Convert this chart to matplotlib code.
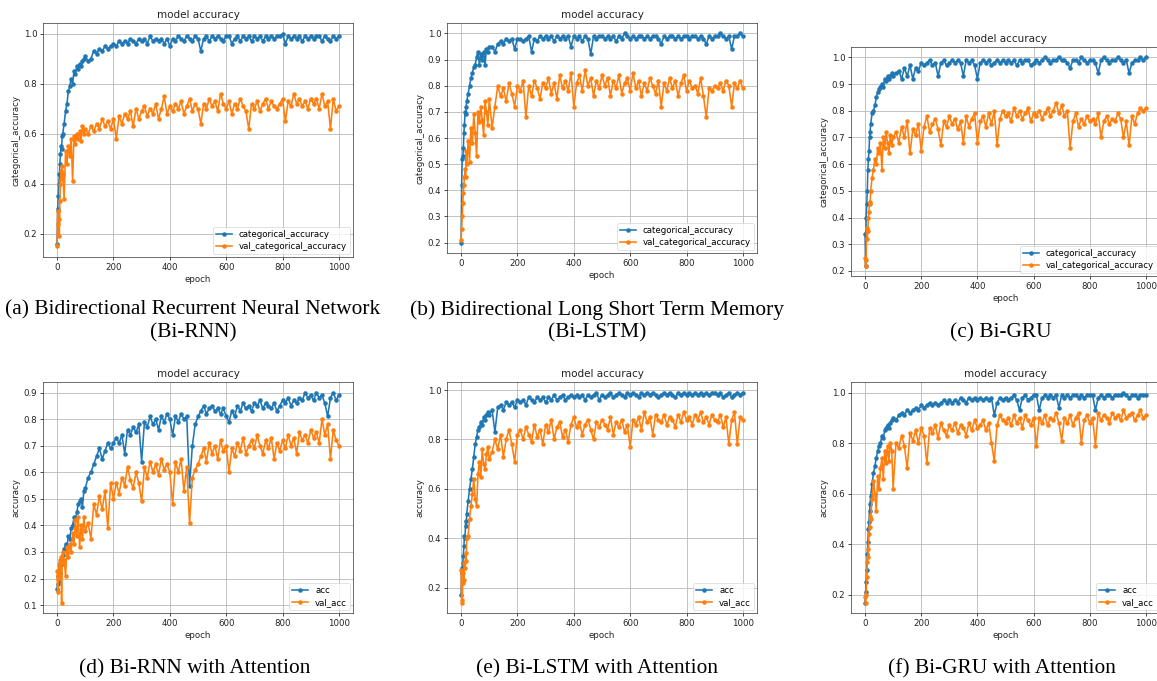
import numpy as np
import matplotlib
matplotlib.use('Agg')
import matplotlib.pyplot as plt

# training history, read every 2 / 5 / 10 epochs
EPOCHS = np.concatenate([np.arange(0, 21, 2), np.arange(25, 101, 5), np.arange(110, 1001, 10)])

# (a) Bi-RNN
A_ACC = [0.16, 0.30, 0.35, 0.40, 0.44, 0.48, 0.52, 0.55, 0.54, 0.59, 0.60,
         0.64, 0.69, 0.72, 0.77, 0.79, 0.82, 0.80, 0.85, 0.84, 0.87, 0.86, 0.88, 0.87, 0.89, 0.90, 0.91,
         0.89, 0.90, 0.93, 0.92, 0.94, 0.93, 0.95, 0.94, 0.95, 0.96,
         0.95, 0.97, 0.96, 0.97, 0.96, 0.98, 0.97, 0.96, 0.98, 0.97,
         0.98, 0.96, 0.99, 0.97, 0.98, 0.97, 0.98, 0.96, 0.98, 0.95,
         0.98, 0.97, 0.99, 0.98, 0.97, 0.99, 0.98, 0.97, 0.99, 0.98,
         0.93, 0.98, 0.99, 0.97, 0.99, 0.98, 0.99, 0.98, 0.97, 0.99,
         0.99, 0.96, 0.98, 0.99, 0.97, 0.99, 0.98, 0.99, 0.97, 0.99,
         0.98, 0.99, 0.97, 0.99, 0.98, 0.99, 0.98, 0.99, 0.99, 1.00,
         0.96, 0.99, 0.98, 0.99, 0.98, 0.99, 0.97, 0.99, 0.98, 0.99,
         0.98, 0.99, 0.99, 0.97, 0.99, 0.98, 0.97, 0.99, 0.98, 0.99]
A_VAL = [0.15, 0.29, 0.24, 0.26, 0.19, 0.33, 0.40, 0.45, 0.42, 0.47, 0.44,
         0.34, 0.53, 0.48, 0.55, 0.51, 0.58, 0.41, 0.59, 0.56, 0.60, 0.58, 0.61, 0.57, 0.63, 0.60, 0.62,
         0.60, 0.63, 0.61, 0.64, 0.62, 0.66, 0.63, 0.65, 0.62, 0.66,
         0.58, 0.67, 0.64, 0.68, 0.66, 0.69, 0.63, 0.70, 0.66, 0.69,
         0.71, 0.67, 0.70, 0.68, 0.72, 0.66, 0.70, 0.75, 0.68, 0.71,
         0.69, 0.72, 0.70, 0.73, 0.68, 0.71, 0.74, 0.69, 0.72, 0.70,
         0.64, 0.72, 0.70, 0.74, 0.71, 0.73, 0.69, 0.76, 0.72, 0.70,
         0.73, 0.68, 0.72, 0.70, 0.74, 0.71, 0.69, 0.62, 0.72, 0.70,
         0.73, 0.69, 0.72, 0.74, 0.70, 0.73, 0.71, 0.70, 0.72, 0.74,
         0.65, 0.73, 0.71, 0.76, 0.72, 0.74, 0.71, 0.73, 0.70, 0.74,
         0.72, 0.74, 0.70, 0.76, 0.71, 0.73, 0.62, 0.74, 0.69, 0.71]

# (b) Bi-LSTM
B_ACC = [0.20, 0.42, 0.52, 0.53, 0.56, 0.62, 0.65, 0.70, 0.69, 0.72, 0.74,
         0.77, 0.80, 0.83, 0.85, 0.87, 0.88, 0.91, 0.93, 0.88, 0.92, 0.90, 0.93, 0.88, 0.94, 0.93, 0.95,
         0.95, 0.93, 0.96, 0.97, 0.96, 0.98, 0.97, 0.98, 0.94, 0.98,
         0.98, 0.97, 0.98, 0.99, 0.93, 0.98, 0.97, 0.99, 0.98, 0.99,
         0.98, 0.99, 0.97, 0.99, 0.98, 0.99, 0.98, 0.99, 0.95, 0.99,
         0.98, 0.99, 0.97, 0.99, 0.98, 0.92, 0.99, 0.98, 0.99, 0.99,
         0.98, 0.99, 0.98, 0.99, 0.97, 0.99, 0.98, 1.00, 0.99, 0.98,
         0.99, 0.98, 0.99, 0.99, 0.98, 0.99, 0.98, 0.99, 0.99, 0.98,
         0.96, 0.99, 0.98, 0.99, 0.99, 0.98, 0.99, 0.98, 0.99, 0.99,
         0.98, 0.99, 0.99, 0.98, 0.99, 0.98, 0.96, 0.99, 0.98, 0.99,
         0.99, 1.00, 0.99, 0.98, 0.99, 0.94, 0.99, 0.99, 1.00, 0.99]
B_VAL = [0.21, 0.25, 0.30, 0.35, 0.39, 0.42, 0.45, 0.48, 0.45, 0.55, 0.50,
         0.59, 0.51, 0.64, 0.58, 0.69, 0.62, 0.53, 0.70, 0.66, 0.72, 0.67, 0.61, 0.74, 0.70, 0.65, 0.75,
         0.64, 0.72, 0.80, 0.76, 0.79, 0.74, 0.81, 0.77, 0.72, 0.80,
         0.78, 0.82, 0.68, 0.80, 0.76, 0.82, 0.79, 0.75, 0.81, 0.79,
         0.83, 0.77, 0.81, 0.75, 0.84, 0.79, 0.82, 0.78, 0.85, 0.72,
         0.81, 0.84, 0.78, 0.86, 0.80, 0.83, 0.76, 0.82, 0.79, 0.84,
         0.80, 0.83, 0.76, 0.82, 0.79, 0.84, 0.77, 0.81, 0.83, 0.78,
         0.85, 0.79, 0.82, 0.76, 0.81, 0.78, 0.83, 0.80, 0.77, 0.82,
         0.72, 0.81, 0.78, 0.83, 0.79, 0.82, 0.76, 0.81, 0.84, 0.78,
         0.82, 0.79, 0.80, 0.77, 0.83, 0.76, 0.68, 0.79, 0.78, 0.80,
         0.79, 0.81, 0.78, 0.82, 0.80, 0.72, 0.81, 0.79, 0.82, 0.79]

# (c) Bi-GRU
C_ACC = [0.34, 0.22, 0.40, 0.45, 0.50, 0.58, 0.62, 0.65, 0.70, 0.72, 0.75,
         0.79, 0.80, 0.82, 0.85, 0.87, 0.88, 0.89, 0.90, 0.89, 0.92, 0.91, 0.93, 0.92, 0.93, 0.94, 0.93,
         0.94, 0.95, 0.92, 0.96, 0.93, 0.97, 0.92, 0.96, 0.95, 0.98,
         0.97, 0.98, 0.99, 0.97, 0.98, 0.93, 0.98, 0.99, 0.97, 0.98,
         0.99, 0.98, 0.99, 0.98, 0.93, 0.99, 0.98, 0.99, 0.97, 0.92,
         0.98, 0.99, 0.98, 0.99, 0.97, 0.98, 0.99, 0.98, 0.99, 0.98,
         0.99, 0.98, 0.99, 0.97, 0.99, 0.98, 0.99, 0.99, 0.97, 0.98,
         0.99, 0.98, 0.99, 1.00, 0.99, 0.98, 0.99, 0.99, 1.00, 0.99,
         0.99, 0.98, 0.96, 0.99, 0.99, 0.98, 1.00, 0.99, 0.98, 0.99,
         0.99, 0.98, 0.94, 0.99, 1.00, 0.99, 0.98, 0.99, 0.99, 1.00,
         0.99, 0.98, 0.99, 0.94, 0.98, 0.99, 0.99, 1.00, 0.99, 1.00]
C_VAL = [0.25, 0.22, 0.24, 0.36, 0.32, 0.35, 0.40, 0.42, 0.46, 0.45, 0.50,
         0.55, 0.58, 0.62, 0.60, 0.66, 0.64, 0.68, 0.58, 0.70, 0.66, 0.72, 0.68, 0.64, 0.71, 0.67, 0.70,
         0.72, 0.68, 0.74, 0.70, 0.76, 0.64, 0.73, 0.71, 0.75, 0.65,
         0.74, 0.78, 0.72, 0.75, 0.77, 0.73, 0.67, 0.76, 0.74, 0.78,
         0.75, 0.77, 0.73, 0.76, 0.68, 0.78, 0.74, 0.77, 0.79, 0.68,
         0.76, 0.78, 0.74, 0.79, 0.75, 0.80, 0.67, 0.77, 0.80, 0.78,
         0.79, 0.76, 0.81, 0.78, 0.80, 0.77, 0.79, 0.81, 0.76, 0.79,
         0.78, 0.80, 0.77, 0.79, 0.81, 0.78, 0.80, 0.83, 0.79, 0.82,
         0.78, 0.80, 0.66, 0.76, 0.79, 0.74, 0.77, 0.75, 0.78, 0.76,
         0.77, 0.75, 0.79, 0.70, 0.76, 0.78, 0.75, 0.77, 0.76, 0.79,
         0.77, 0.70, 0.76, 0.67, 0.78, 0.75, 0.79, 0.81, 0.80, 0.81]

# (d) Bi-RNN with attention
D_ACC = [0.16, 0.18, 0.21, 0.19, 0.23, 0.22, 0.26, 0.25, 0.27, 0.26, 0.29,
         0.31, 0.33, 0.32, 0.36, 0.35, 0.39, 0.40, 0.43, 0.42, 0.45, 0.48, 0.49, 0.50, 0.47, 0.53, 0.54,
         0.58, 0.60, 0.63, 0.66, 0.69, 0.65, 0.68, 0.71, 0.69, 0.71,
         0.73, 0.71, 0.74, 0.67, 0.76, 0.74, 0.77, 0.75, 0.78, 0.64,
         0.79, 0.77, 0.81, 0.78, 0.80, 0.76, 0.81, 0.79, 0.82, 0.80,
         0.74, 0.81, 0.79, 0.82, 0.80, 0.81, 0.55, 0.70, 0.78, 0.81,
         0.83, 0.85, 0.82, 0.84, 0.85, 0.83, 0.84, 0.82, 0.84, 0.81,
         0.79, 0.83, 0.81, 0.85, 0.83, 0.86, 0.84, 0.85, 0.83, 0.86,
         0.85, 0.87, 0.84, 0.86, 0.85, 0.84, 0.86, 0.83, 0.85, 0.87,
         0.86, 0.88, 0.85, 0.87, 0.86, 0.88, 0.87, 0.90, 0.88, 0.89,
         0.87, 0.90, 0.88, 0.89, 0.86, 0.81, 0.88, 0.90, 0.87, 0.89]
D_VAL = [0.23, 0.15, 0.20, 0.25, 0.21, 0.27, 0.22, 0.28, 0.11, 0.26, 0.30,
         0.27, 0.21, 0.32, 0.28, 0.33, 0.30, 0.37, 0.33, 0.42, 0.36, 0.43, 0.32, 0.40, 0.35, 0.43, 0.38,
         0.41, 0.35, 0.48, 0.44, 0.51, 0.46, 0.53, 0.39, 0.56, 0.50,
         0.56, 0.52, 0.58, 0.55, 0.62, 0.57, 0.54, 0.60, 0.56, 0.49,
         0.62, 0.58, 0.64, 0.60, 0.63, 0.59, 0.65, 0.61, 0.63, 0.60,
         0.48, 0.64, 0.60, 0.65, 0.53, 0.62, 0.41, 0.58, 0.61, 0.63,
         0.66, 0.69, 0.64, 0.71, 0.67, 0.70, 0.65, 0.72, 0.68, 0.70,
         0.60, 0.69, 0.66, 0.71, 0.68, 0.73, 0.67, 0.70, 0.72, 0.69,
         0.74, 0.70, 0.67, 0.72, 0.69, 0.73, 0.65, 0.71, 0.68, 0.72,
         0.69, 0.74, 0.70, 0.73, 0.67, 0.75, 0.72, 0.74, 0.71, 0.76,
         0.73, 0.75, 0.71, 0.80, 0.74, 0.78, 0.65, 0.76, 0.72, 0.70]

# (e) Bi-LSTM with attention
E_ACC = [0.17, 0.28, 0.26, 0.30, 0.33, 0.37, 0.41, 0.40, 0.47, 0.45, 0.50,
         0.55, 0.60, 0.64, 0.68, 0.73, 0.78, 0.81, 0.84, 0.85, 0.87, 0.86, 0.89, 0.88, 0.90, 0.91, 0.90,
         0.92, 0.83, 0.93, 0.94, 0.92, 0.95, 0.94, 0.95, 0.93, 0.96,
         0.95, 0.96, 0.94, 0.97, 0.96, 0.95, 0.97, 0.96, 0.97, 0.95,
         0.97, 0.96, 0.98, 0.96, 0.97, 0.98, 0.96, 0.97, 0.98, 0.97,
         0.98, 0.97, 0.98, 0.96, 0.98, 0.97, 0.98, 0.99, 0.96, 0.98,
         0.97, 0.98, 0.99, 0.97, 0.98, 0.99, 0.98, 0.97, 0.99, 0.98,
         0.99, 0.98, 0.97, 0.99, 0.98, 0.99, 0.98, 0.99, 0.98, 0.97,
         0.98, 0.99, 0.98, 0.99, 0.98, 0.97, 0.99, 0.98, 0.99, 0.98,
         0.99, 0.98, 0.99, 0.98, 0.99, 0.98, 0.99, 0.98, 0.99, 0.99,
         0.98, 0.99, 0.97, 0.98, 0.99, 0.97, 0.98, 0.99, 0.98, 0.99]
E_VAL = [0.27, 0.15, 0.14, 0.22, 0.26, 0.23, 0.30, 0.28, 0.34, 0.31, 0.40,
         0.41, 0.48, 0.53, 0.58, 0.64, 0.56, 0.53, 0.66, 0.71, 0.65, 0.76, 0.70, 0.68, 0.74, 0.77, 0.72,
         0.75, 0.80, 0.76, 0.82, 0.73, 0.80, 0.84, 0.78, 0.71, 0.82,
         0.84, 0.80, 0.85, 0.82, 0.79, 0.86, 0.81, 0.84, 0.78, 0.86,
         0.83, 0.88, 0.80, 0.85, 0.87, 0.81, 0.84, 0.79, 0.86, 0.89,
         0.85, 0.87, 0.82, 0.86, 0.88, 0.84, 0.80, 0.87, 0.85, 0.88,
         0.86, 0.84, 0.89, 0.82, 0.87, 0.85, 0.88, 0.83, 0.86, 0.77,
         0.88, 0.86, 0.89, 0.84, 0.91, 0.87, 0.89, 0.82, 0.90, 0.88,
         0.87, 0.90, 0.86, 0.89, 0.88, 0.85, 0.90, 0.87, 0.91, 0.88,
         0.89, 0.86, 0.90, 0.88, 0.91, 0.87, 0.89, 0.86, 0.90, 0.88,
         0.87, 0.90, 0.85, 0.89, 0.78, 0.88, 0.91, 0.78, 0.89, 0.88]

# (f) Bi-GRU with attention
F_ACC = [0.17, 0.21, 0.25, 0.30, 0.36, 0.41, 0.46, 0.49, 0.53, 0.56, 0.59,
         0.64, 0.68, 0.71, 0.74, 0.77, 0.79, 0.80, 0.83, 0.82, 0.85, 0.86, 0.87, 0.86, 0.88, 0.89, 0.90,
         0.89, 0.91, 0.92, 0.91, 0.93, 0.92, 0.93, 0.94, 0.93, 0.95,
         0.94, 0.95, 0.96, 0.95, 0.96, 0.95, 0.96, 0.97, 0.96, 0.97,
         0.96, 0.97, 0.96, 0.98, 0.97, 0.96, 0.98, 0.97, 0.98, 0.97,
         0.98, 0.97, 0.98, 0.97, 0.98, 0.91, 0.96, 0.98, 0.97, 0.98,
         0.97, 0.98, 0.99, 0.97, 0.93, 0.98, 0.99, 0.97, 0.98, 0.99,
         0.99, 0.93, 0.98, 0.99, 0.98, 0.99, 0.98, 0.99, 0.94, 0.99,
         0.98, 0.99, 0.98, 0.99, 0.99, 0.98, 0.99, 0.98, 0.99, 0.99,
         0.99, 0.93, 0.98, 0.99, 0.98, 0.99, 0.99, 0.98, 0.99, 0.99,
         0.99, 1.00, 0.99, 0.98, 0.99, 0.99, 0.98, 0.99, 0.99, 0.99]
F_VAL = [0.19, 0.17, 0.20, 0.27, 0.33, 0.35, 0.38, 0.44, 0.47, 0.51, 0.50,
         0.58, 0.65, 0.60, 0.53, 0.67, 0.62, 0.70, 0.74, 0.66, 0.77, 0.72, 0.79, 0.73, 0.80, 0.77, 0.62,
         0.80, 0.78, 0.83, 0.79, 0.70, 0.84, 0.81, 0.85, 0.80, 0.86,
         0.83, 0.72, 0.86, 0.84, 0.87, 0.82, 0.88, 0.85, 0.83, 0.87,
         0.85, 0.88, 0.84, 0.87, 0.86, 0.83, 0.88, 0.85, 0.89, 0.86,
         0.87, 0.89, 0.85, 0.88, 0.80, 0.73, 0.87, 0.91, 0.89, 0.88,
         0.90, 0.87, 0.91, 0.88, 0.90, 0.86, 0.91, 0.89, 0.87, 0.90,
         0.79, 0.90, 0.88, 0.91, 0.87, 0.90, 0.89, 0.92, 0.88, 0.81,
         0.90, 0.88, 0.91, 0.87, 0.90, 0.92, 0.80, 0.89, 0.91, 0.88,
         0.90, 0.79, 0.92, 0.89, 0.91, 0.90, 0.88, 0.92, 0.90, 0.91,
         0.89, 0.93, 0.90, 0.91, 0.92, 0.89, 0.91, 0.93, 0.90, 0.91]

CAPTIONS = [['(a) Bidirectional Recurrent Neural Network', '(Bi-RNN)'],
            ['(b) Bidirectional Long Short Term Memory', '(Bi-LSTM)'],
            ['(c) Bi-GRU'],
            ['(d) Bi-RNN with Attention'],
            ['(e) Bi-LSTM with Attention'],
            ['(f) Bi-GRU with Attention']]
YLABELS = ['categorical_accuracy'] * 3 + ['accuracy'] * 3
LEGENDS = [('categorical_accuracy', 'val_categorical_accuracy')] * 3 + [('acc', 'val_acc')] * 3
SERIES = [(A_ACC, A_VAL), (B_ACC, B_VAL), (C_ACC, C_VAL),
          (D_ACC, D_VAL), (E_ACC, E_VAL), (F_ACC, F_VAL)]

W, H = 1157, 681
# axes boxes in pixels: left, top, width, height
BOXES = [(43, 23, 310, 234), (447, 23, 310, 230), (851, 47, 309, 229),
         (43, 382, 310, 231), (447, 382, 310, 231), (851, 382, 309, 231)]
# caption centres in pixels: x, y of first line
CAP_POS = [(193, 310), (597, 310), (1001, 333), (195, 669), (597, 669), (1002, 669)]

fs = 6.25
fig = plt.figure(figsize=(W / 100, H / 100), dpi=100)
for k, ((acc, val), box) in enumerate(zip(SERIES, BOXES)):
    assert len(acc) == len(EPOCHS) and len(val) == len(EPOCHS)
    l, t, w, h = box
    ax = fig.add_axes([l / W, 1 - (t + h) / H, w / W, h / H])
    ax.plot(EPOCHS, acc, marker='.', ms=4.5, lw=1.15, color='#1f77b4', label=LEGENDS[k][0])
    ax.plot(EPOCHS, val, marker='.', ms=4.5, lw=1.15, color='#ff7f0e', label=LEGENDS[k][1])
    ax.set_title('model accuracy', fontsize=7.5, pad=3.5, color='#222222')
    ax.set_xlabel('epoch', fontsize=fs, labelpad=2, color='#222222')
    ax.set_ylabel(YLABELS[k], fontsize=fs, labelpad=2.5, color='#222222')
    ax.tick_params(labelsize=fs, length=2.2, width=0.5, pad=2, labelcolor='#222222')
    ax.set_xticks([0, 200, 400, 600, 800, 1000])
    ax.grid(True, color='#b8b8b8', lw=0.6)
    for s in ax.spines.values():
        s.set_linewidth(0.5)
        s.set_color('#333333')
    leg = ax.legend(loc='lower right', fontsize=fs, handlelength=1.8, borderpad=0.35,
                    labelspacing=0.3, borderaxespad=0.35, fancybox=True)
    leg.get_frame().set_linewidth(0.5)

for lines, (cx, cy) in zip(CAPTIONS, CAP_POS):
    for i, s in enumerate(lines):
        fig.text(cx / W, 1 - (cy + 23 * i) / H, s, ha='center', va='center',
                 fontsize=15.4, family='Liberation Serif')

fig.savefig('out.png', dpi=100)
